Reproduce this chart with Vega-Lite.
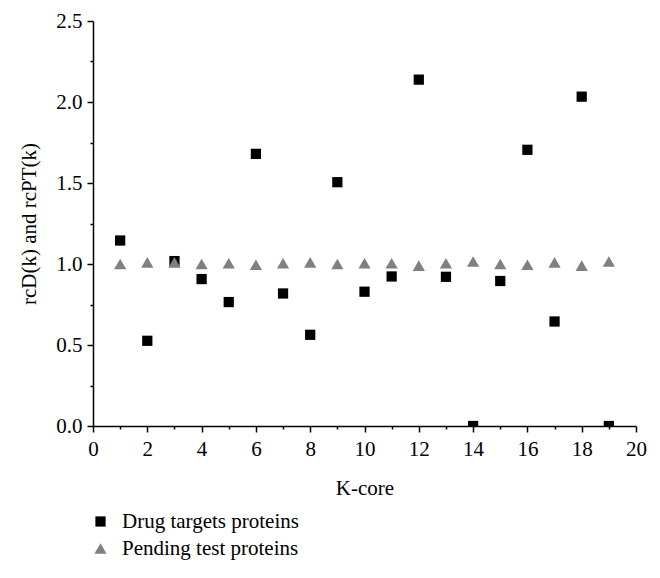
{
  "$schema": "https://vega.github.io/schema/vega-lite/v6.json",
  "autosize": {"type": "none"},
  "padding": {"left": 93, "top": 21, "right": 24, "bottom": 152},
  "width": 543,
  "height": 405,
  "background": "white",
  "config": {
    "view": {"stroke": null},
    "font": "Liberation Serif",
    "axis": {
      "domainColor": "black",
      "domainWidth": 1.5,
      "tickColor": "black",
      "tickWidth": 1.5,
      "labelFont": "Liberation Serif",
      "labelFontSize": 21,
      "labelColor": "black",
      "titleFont": "Liberation Serif",
      "titleFontSize": 21,
      "titleFontWeight": "normal",
      "titleColor": "black",
      "grid": false
    },
    "legend": {
      "labelFont": "Liberation Serif",
      "labelFontSize": 21,
      "labelColor": "black",
      "labelLimit": 0
    }
  },
  "data": {
    "values": [
      {"k": 1, "v": 1.145, "s": "Drug targets proteins"},
      {"k": 2, "v": 0.526, "s": "Drug targets proteins"},
      {"k": 3, "v": 1.018, "s": "Drug targets proteins"},
      {"k": 4, "v": 0.907, "s": "Drug targets proteins"},
      {"k": 5, "v": 0.765, "s": "Drug targets proteins"},
      {"k": 6, "v": 1.68, "s": "Drug targets proteins"},
      {"k": 7, "v": 0.818, "s": "Drug targets proteins"},
      {"k": 8, "v": 0.563, "s": "Drug targets proteins"},
      {"k": 9, "v": 1.505, "s": "Drug targets proteins"},
      {"k": 10, "v": 0.829, "s": "Drug targets proteins"},
      {"k": 11, "v": 0.923, "s": "Drug targets proteins"},
      {"k": 12, "v": 2.138, "s": "Drug targets proteins"},
      {"k": 13, "v": 0.921, "s": "Drug targets proteins"},
      {"k": 14, "v": 0.0, "s": "Drug targets proteins"},
      {"k": 15, "v": 0.895, "s": "Drug targets proteins"},
      {"k": 16, "v": 1.705, "s": "Drug targets proteins"},
      {"k": 17, "v": 0.645, "s": "Drug targets proteins"},
      {"k": 18, "v": 2.033, "s": "Drug targets proteins"},
      {"k": 19, "v": 0.0, "s": "Drug targets proteins"},
      {"k": 1, "v": 1.0, "s": "Pending test proteins"},
      {"k": 2, "v": 1.01, "s": "Pending test proteins"},
      {"k": 3, "v": 1.01, "s": "Pending test proteins"},
      {"k": 4, "v": 1.0, "s": "Pending test proteins"},
      {"k": 5, "v": 1.005, "s": "Pending test proteins"},
      {"k": 6, "v": 0.995, "s": "Pending test proteins"},
      {"k": 7, "v": 1.005, "s": "Pending test proteins"},
      {"k": 8, "v": 1.01, "s": "Pending test proteins"},
      {"k": 9, "v": 1.0, "s": "Pending test proteins"},
      {"k": 10, "v": 1.005, "s": "Pending test proteins"},
      {"k": 11, "v": 1.005, "s": "Pending test proteins"},
      {"k": 12, "v": 0.99, "s": "Pending test proteins"},
      {"k": 13, "v": 1.005, "s": "Pending test proteins"},
      {"k": 14, "v": 1.015, "s": "Pending test proteins"},
      {"k": 15, "v": 1.0, "s": "Pending test proteins"},
      {"k": 16, "v": 0.995, "s": "Pending test proteins"},
      {"k": 17, "v": 1.01, "s": "Pending test proteins"},
      {"k": 18, "v": 0.99, "s": "Pending test proteins"},
      {"k": 19, "v": 1.015, "s": "Pending test proteins"}
    ]
  },
  "mark": {"type": "point", "filled": true, "opacity": 1, "clip": true},
  "encoding": {
    "x": {
      "field": "k",
      "type": "quantitative",
      "scale": {"domain": [0, 20], "nice": false, "zero": false},
      "axis": {
        "title": "K-core",
        "titlePadding": 18,
        "values": [0,1,2,3,4,5,6,7,8,9,10,11,12,13,14,15,16,17,18,19,20],
        "labelExpr": "datum.value % 2 == 0 ? datum.label : ''",
        "tickSize": {"condition": {"test": "datum.value % 2 != 0", "value": 3}, "value": 6},
        "labelPadding": 6,
        "labelFlush": false,
        "labelOverlap": false
      }
    },
    "y": {
      "field": "v",
      "type": "quantitative",
      "scale": {"domain": [0, 2.5], "nice": false},
      "axis": {
        "title": "rcD(k) and rcPT(k)",
        "titlePadding": 16,
        "values": [0, 0.25, 0.5, 0.75, 1, 1.25, 1.5, 1.75, 2, 2.25, 2.5],
        "labelExpr": "abs(datum.value*2 - round(datum.value*2)) > 0.01 ? '' : format(datum.value, '.1f')",
        "tickSize": {"condition": {"test": "abs(datum.value*2 - round(datum.value*2)) > 0.01", "value": 3}, "value": 6},
        "labelPadding": 5,
        "labelFlush": false,
        "labelOverlap": false
      }
    },
    "size": {
      "field": "s",
      "type": "nominal",
      "scale": {"domain": ["Drug targets proteins", "Pending test proteins"], "range": [105, 150]},
      "legend": null
    },
    "shape": {
      "field": "s",
      "type": "nominal",
      "scale": {"domain": ["Drug targets proteins", "Pending test proteins"], "range": ["square", "triangle-up"]},
      "legend": {"orient": "none", "legendX": -3, "legendY": 490, "title": null, "direction": "vertical", "rowPadding": 5, "symbolSize": 110, "labelOffset": 11}
    },
    "color": {
      "field": "s",
      "type": "nominal",
      "scale": {"domain": ["Drug targets proteins", "Pending test proteins"], "range": ["black", "#808080"]},
      "legend": {"orient": "none", "legendX": -3, "legendY": 490, "title": null, "direction": "vertical", "rowPadding": 5, "symbolSize": 110, "labelOffset": 11}
    }
  }
}
